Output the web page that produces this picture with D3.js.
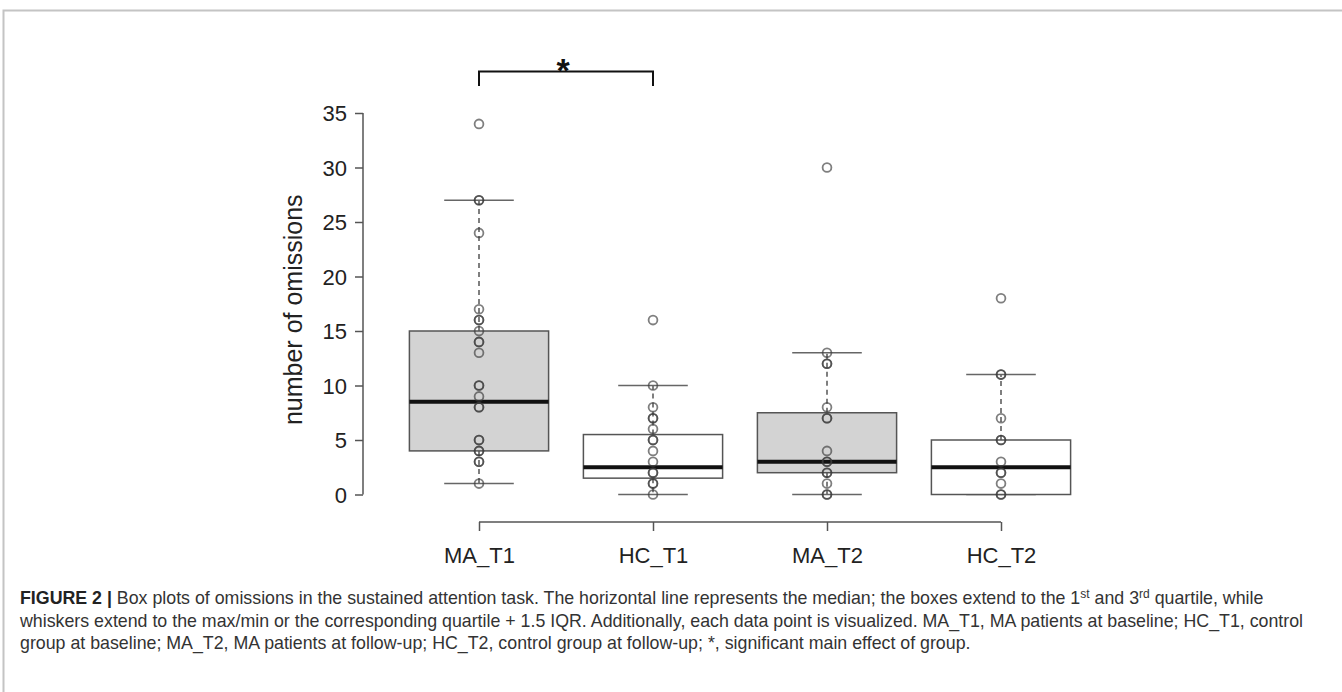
<!DOCTYPE html>
<html>
<head>
<meta charset="utf-8">
<script src="https://cdn.jsdelivr.net/npm/d3@7"></script>
<style>
  html, body { margin: 0; padding: 0; background: #fff; }
  svg { display: block; }
</style>
</head>
<body>
<svg id="chart" width="1342" height="692"></svg>
<script>
// ---------- data ----------
const categories = ["MA_T1", "HC_T1", "MA_T2", "HC_T2"];
const boxFills = ["#d3d3d3", "#ffffff", "#d3d3d3", "#ffffff"];
const whiskerLow  = [1, 0, 0, 0];
const quartile1   = [4, 1.5, 2, 0];
const medians     = [8.5, 2.5, 3, 2.5];
const quartile3   = [15, 5.5, 7.5, 5];
const whiskerHigh = [27, 10, 13, 11];
const pointsMA_T1 = [34, 27, 27, 24, 17, 16, 16, 15, 14, 14, 13, 10, 10, 9, 8, 8, 5, 5, 4, 4, 3, 3, 1];
const pointsHC_T1 = [16, 10, 8, 7, 7, 6, 5, 5, 4, 3, 2, 2, 1, 1, 0];
const pointsMA_T2 = [30, 13, 12, 12, 8, 7, 7, 4, 3, 3, 2, 2, 1, 0, 0];
const pointsHC_T2 = [18, 11, 11, 7, 5, 5, 3, 2, 2, 1, 0, 0];
const yTicks = [0, 5, 10, 15, 20, 25, 30, 35];
const yTitle = "number of omissions";
const sigPair = ["MA_T1", "HC_T1"];
const sigLabel = "*";

const points = [pointsMA_T1, pointsHC_T1, pointsMA_T2, pointsHC_T2];

// ---------- layout ----------
const svg = d3.select("#chart");
const x = d3.scalePoint().domain(categories).range([479, 1001]);
const step = x.step();
const boxW = step * 0.8;
const capW = boxW / 2;
const y = d3.scaleLinear().domain([0, 35]).range([494.5, 113]);

const font = "'Liberation Sans', Arial, Helvetica, sans-serif";

// frame
svg.append("path")
  .attr("d", "M3.5,692 L3.5,10.5 L1342,10.5")
  .attr("fill", "none").attr("stroke", "#c4c4c4").attr("stroke-width", 2);

// y axis (R style)
const yAxisX = 363;
const yAxis = d3.axisLeft(y).tickValues(yTicks).tickSize(8).tickPadding(8).tickSizeOuter(0);
const gy = svg.append("g").attr("transform", `translate(${yAxisX},0)`).call(yAxis);
gy.select(".domain").attr("stroke", "#555").attr("stroke-width", 1.5)
  .attr("d", `M0,${y(0)}V${y(35)}`);
gy.selectAll(".tick line").attr("stroke", "#555").attr("stroke-width", 1.5);
gy.selectAll(".tick text").attr("font-family", font).attr("font-size", 22).attr("fill", "#222")
  .attr("dy", "0.36em");

// x axis
const xAxisY = 522;
const xAxis = d3.axisBottom(x).tickSize(9).tickPadding(16).tickSizeOuter(0);
const gx = svg.append("g").attr("transform", `translate(0,${xAxisY})`).call(xAxis);
gx.select(".domain").attr("stroke", "#555").attr("stroke-width", 1.5)
  .attr("d", `M${x(categories[0])},0H${x(categories[categories.length-1])}`);
gx.selectAll(".tick line").attr("stroke", "#555").attr("stroke-width", 1.5);
gx.selectAll(".tick text").attr("font-family", font).attr("font-size", 22).attr("fill", "#222");

// y title
svg.append("text")
  .attr("transform", `translate(302,${(y(0)+y(35))/2 + 6}) rotate(-90)`)
  .attr("text-anchor", "middle")
  .attr("font-family", font).attr("font-size", 25).attr("fill", "#222")
  .text(yTitle);

// boxes
const g = svg.append("g");
categories.forEach((c, i) => {
  const cx = x(c);
  g.append("line").attr("x1", cx).attr("x2", cx).attr("y1", y(quartile3[i])).attr("y2", y(whiskerHigh[i]))
    .attr("stroke", "#555").attr("stroke-width", 1.5).attr("stroke-dasharray", "5,4");
  g.append("line").attr("x1", cx).attr("x2", cx).attr("y1", y(quartile1[i])).attr("y2", y(whiskerLow[i]))
    .attr("stroke", "#555").attr("stroke-width", 1.5).attr("stroke-dasharray", "5,4");
  [whiskerLow[i], whiskerHigh[i]].forEach(v => {
    g.append("line").attr("x1", cx - capW/2).attr("x2", cx + capW/2).attr("y1", y(v)).attr("y2", y(v))
      .attr("stroke", "#666").attr("stroke-width", 1.5);
  });
  g.append("rect").attr("x", cx - boxW/2).attr("width", boxW)
    .attr("y", y(quartile3[i])).attr("height", y(quartile1[i]) - y(quartile3[i]))
    .attr("fill", boxFills[i]).attr("stroke", "#555").attr("stroke-width", 1.5);
  g.append("line").attr("x1", cx - boxW/2).attr("x2", cx + boxW/2).attr("y1", y(medians[i])).attr("y2", y(medians[i]))
    .attr("stroke", "#111").attr("stroke-width", 4);
});

// points
categories.forEach((c, i) => {
  g.selectAll(null).data(points[i]).enter().append("circle")
    .attr("cx", x(c)).attr("cy", d => y(d)).attr("r", 4.4)
    .attr("fill", "none").attr("stroke", "#3a3a3a").attr("stroke-opacity", 0.65).attr("stroke-width", 1.8);
});

// significance bracket
const bx1 = x(sigPair[0]), bx2 = x(sigPair[1]);
const bTop = 71.5, bBottom = 86;
svg.append("path")
  .attr("d", `M${bx1},${bBottom}V${bTop}H${bx2}V${bBottom}`)
  .attr("fill", "none").attr("stroke", "#111").attr("stroke-width", 2);
svg.append("text")
  .attr("x", (bx1 + bx2)/2 - 3).attr("y", 82)
  .attr("text-anchor", "middle").attr("font-family", font).attr("font-weight", "bold")
  .attr("font-size", 34).attr("fill", "#111").text(sigLabel);

// caption
const cap = svg.append("g").attr("font-family", font).attr("font-size", 17.8).attr("fill", "#333");
const l1 = cap.append("text").attr("x", 20).attr("y", 604);
l1.append("tspan").attr("font-weight", "bold").attr("fill", "#222").text("FIGURE 2 | ");
l1.append("tspan").text("Box plots of omissions in the sustained attention task. The horizontal line represents the median; the boxes extend to the 1");
l1.append("tspan").attr("font-size", 12).attr("dy", -6).text("st");
l1.append("tspan").attr("dy", 6).text(" and 3");
l1.append("tspan").attr("font-size", 12).attr("dy", -6).text("rd");
l1.append("tspan").attr("dy", 6).text(" quartile, while");
cap.append("text").attr("x", 20).attr("y", 627)
  .text("whiskers extend to the max/min or the corresponding quartile + 1.5 IQR. Additionally, each data point is visualized. MA_T1, MA patients at baseline; HC_T1, control");
cap.append("text").attr("x", 20).attr("y", 649)
  .text("group at baseline; MA_T2, MA patients at follow-up; HC_T2, control group at follow-up; *, significant main effect of group.");
</script>
</body>
</html>
